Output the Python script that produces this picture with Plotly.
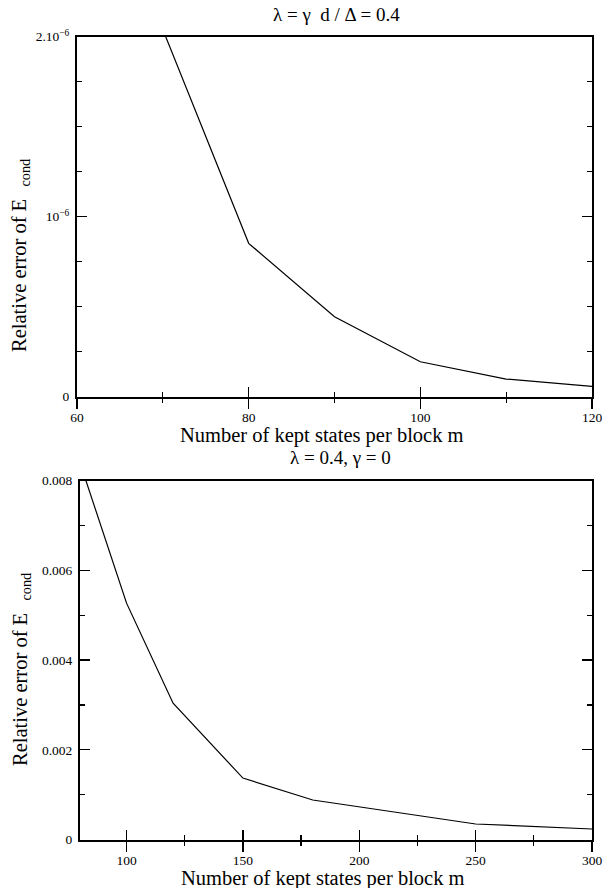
import plotly.graph_objects as go

# ---- data ----
m_top = [70, 80, 90, 100, 110, 120]
err_top = [2.04e-6, 0.852e-6, 0.444e-6, 0.194e-6, 0.098e-6, 0.057e-6]

m_bot = [80, 100, 120, 150, 180, 200, 250, 300]
err_bot = [0.0084, 0.00527, 0.00304, 0.00137, 0.00088, 0.00073, 0.000346, 0.000234]

top_title = "λ = γ  d / Δ = 0.4"
bot_title = "λ = 0.4, γ = 0"
x_title = "Number of kept states per block m"
y_title = "Relative error of E <sub>  cond</sub>"

top_xticks = [60, 80, 100, 120]
top_xminor = [70, 90, 110]
top_yticks = [0, 1e-6, 2e-6]
top_yticktext = ["0", "10<sup>−6</sup>", "2.10<sup>−6</sup>"]
top_yminor = [0.25e-6, 0.5e-6, 0.75e-6, 1.25e-6, 1.5e-6, 1.75e-6]

bot_xticks = [100, 150, 200, 250, 300]
bot_xminor = [125, 175, 225, 275]
bot_yticks = [0, 0.002, 0.004, 0.006, 0.008]
bot_yticktext = ["0", "0.002", "0.004", "0.006", "0.008"]
bot_yminor = [0.001, 0.003, 0.005, 0.007]

W, H = 609, 888
FONT = "Liberation Serif"

def fx(px):
    return px / W

def fy(py):
    return 1 - py / H

top_dx = [fx(77), fx(592)]
top_dy = [fy(396.7), fy(36.7)]
bot_dx = [fx(80), fx(592)]
bot_dy = [fy(839.5), fy(480.7)]

fig = go.Figure()
line = dict(color="black", width=1.2)
fig.add_trace(go.Scatter(x=m_top, y=err_top, mode="lines", line=line, xaxis="x", yaxis="y", showlegend=False))
fig.add_trace(go.Scatter(x=m_bot, y=err_bot, mode="lines", line=line, xaxis="x2", yaxis="y2", showlegend=False))
# invisible traces so the overlay tick axes render
fig.add_trace(go.Scatter(x=m_top, y=err_top, mode="lines", line=dict(width=0), opacity=0, xaxis="x3", yaxis="y", showlegend=False, hoverinfo="skip"))
fig.add_trace(go.Scatter(x=m_bot, y=err_bot, mode="lines", line=dict(width=0), opacity=0, xaxis="x4", yaxis="y2", showlegend=False, hoverinfo="skip"))

tickfont = dict(family=FONT, size=13.5, color="black")

def xaxis_main(dom, anchor, rng, ticks, minor):
    return dict(domain=dom, anchor=anchor, range=rng, tickmode="array", tickvals=ticks,
                ticks="outside", ticklen=10, tickwidth=1.2, tickcolor="black",
                minor=dict(tickmode="array", tickvals=minor, ticks="outside", ticklen=4, tickwidth=1.2, tickcolor="black"),
                showline=True, linewidth=2, linecolor="black", mirror=True, automargin=False,
                showgrid=False, zeroline=False, tickfont=tickfont, ticklabelstandoff=-3)

def xaxis_over(over, anchor, rng, ticks, minor):
    return dict(overlaying=over, anchor=anchor, range=rng, matches=over, tickmode="array", tickvals=ticks,
                ticks="inside", ticklen=10, tickwidth=1.2, tickcolor="black",
                minor=dict(tickmode="array", tickvals=minor, ticks="inside", ticklen=5, tickwidth=1.2, tickcolor="black"),
                showline=False, showgrid=False, zeroline=False, showticklabels=False, automargin=False)

def yaxis_main(dom, anchor, rng, ticks, text, minor):
    return dict(domain=dom, anchor=anchor, range=rng, tickmode="array", tickvals=ticks, ticktext=text,
                ticks="inside", ticklen=10, tickwidth=1.2, tickcolor="black",
                minor=dict(tickmode="array", tickvals=minor, ticks="inside", ticklen=5, tickwidth=1.2, tickcolor="black"),
                showline=True, linewidth=2, linecolor="black", mirror="ticks", automargin=False,
                showgrid=False, zeroline=False, tickfont=tickfont, ticklabelstandoff=3)

fig.update_layout(
    width=W, height=H,
    margin=dict(l=0, r=0, t=0, b=0, autoexpand=False),
    paper_bgcolor="white", plot_bgcolor="white",
    font=dict(family=FONT, color="black"),
    hovermode=False,
    xaxis=xaxis_main(top_dx, "y", [60, 120], top_xticks, top_xminor),
    yaxis=yaxis_main(top_dy, "x", [0, 2e-6], top_yticks, top_yticktext, top_yminor),
    xaxis2=xaxis_main(bot_dx, "y2", [80, 300], bot_xticks, bot_xminor),
    yaxis2=yaxis_main(bot_dy, "x2", [0, 0.008], bot_yticks, bot_yticktext, bot_yminor),
    xaxis3=xaxis_over("x", "y", [60, 120], top_xticks, top_xminor),
    xaxis4=xaxis_over("x2", "y2", [80, 300], bot_xticks, bot_xminor),
)

def ann(text, xpx, ypx, size, angle=0):
    fig.add_annotation(text=text, x=fx(xpx), y=fy(ypx), xref="paper", yref="paper",
                       xanchor="center", yanchor="middle", showarrow=False, textangle=angle,
                       font=dict(family=FONT, size=size, color="black"))

ann(top_title, 336, 15, 19)
ann(bot_title, 340, 458, 19)
ann(x_title, 322, 435, 20.5)
ann(x_title, 323, 878, 20.5)
ann(y_title, 21, 256, 20.5, -90)
ann(y_title, 21, 670, 20.5, -90)

fig.write_html(
    "out.html",
    config={"displayModeBar": False, "staticPlot": True},
    post_script="document.body.style.margin='0';document.documentElement.style.overflow='hidden';document.body.style.overflow='hidden';",
)
